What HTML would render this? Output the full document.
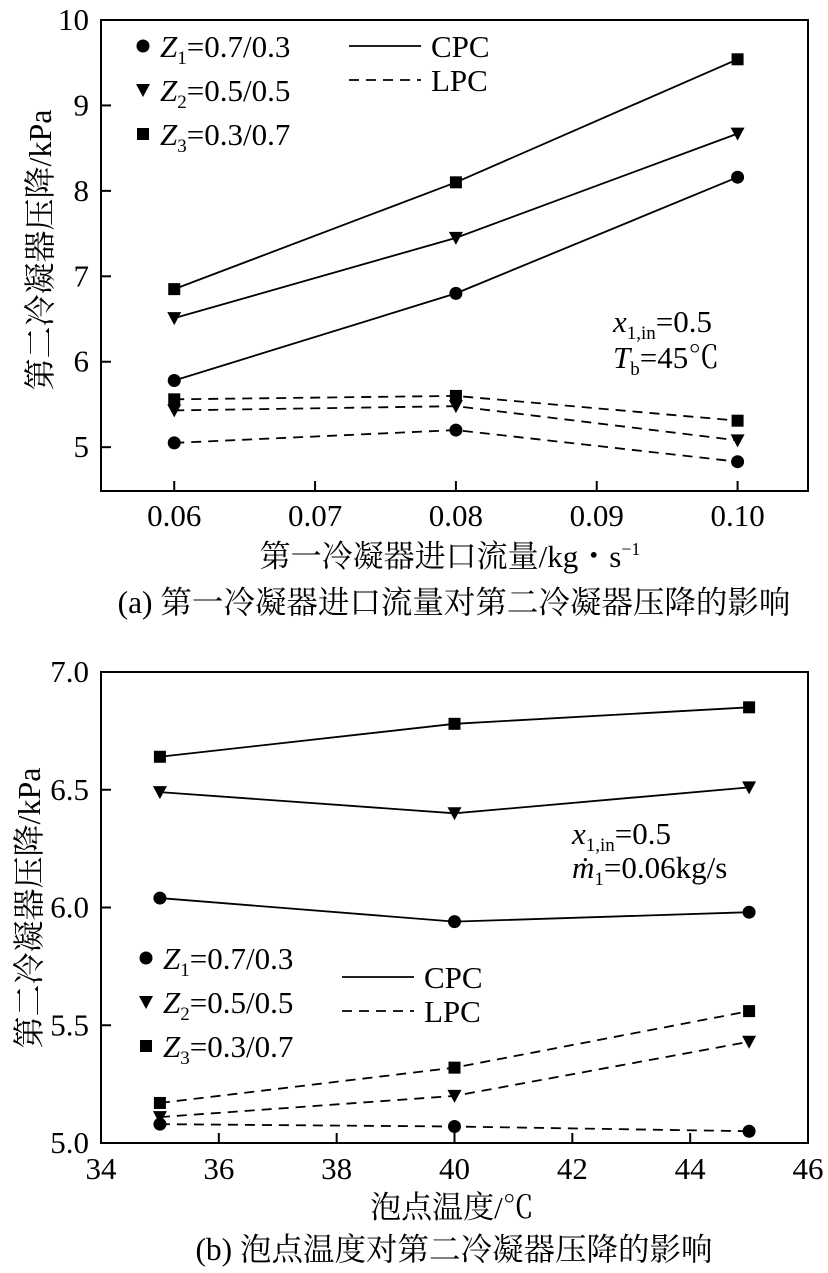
<!DOCTYPE html>
<html><head><meta charset="utf-8"><style>
body{margin:0;background:#fff;width:828px;height:1273px;overflow:hidden}
svg{display:block}
text{font-family:"Liberation Serif","Noto Serif CJK SC",serif;fill:#000}
</style></head><body>
<svg id="s" width="828" height="1273"></svg>
<script>
const flowCats=[0.06,0.08,0.10];
const aCPC1=[5.78,6.80,8.16], aCPC2=[6.51,7.45,8.67], aCPC3=[6.85,8.10,9.54];
const aLPC1=[5.05,5.20,4.83], aLPC2=[5.43,5.48,5.08], aLPC3=[5.56,5.60,5.31];
const aXTicks=[0.06,0.07,0.08,0.09,0.10], aXLabels=["0.06","0.07","0.08","0.09","0.10"];
const aYTicks=[5,6,7,8,9,10];
const tempCats=[35,40,45];
const bCPC1=[6.04,5.94,5.98], bCPC2=[6.49,6.40,6.51], bCPC3=[6.64,6.78,6.85];
const bLPC1=[5.08,5.07,5.05], bLPC2=[5.11,5.20,5.43], bLPC3=[5.17,5.32,5.56];
const bXTicks=[34,36,38,40,42,44,46];
const bYTicks=[5.0,5.5,6.0,6.5,7.0], bYLabels=["5.0","5.5","6.0","6.5","7.0"];

const S=document.getElementById('s'),NS='http://www.w3.org/2000/svg';
const FS=31, SUB=19;
function mk(t,a,p){const e=document.createElementNS(NS,t);for(const k in a)e.setAttribute(k,a[k]);(p||S).appendChild(e);return e;}
function txt(x,y,str,size,anchor,name,p){const e=mk('text',{x:x,y:y,'font-size':size,'text-anchor':anchor||'start'},p);e.innerHTML=str;return e;}
function marker(kind,x,y,p){let e;
 if(kind==0)e=mk('circle',{cx:x,cy:y,r:6.5},p);
 else if(kind==1)e=mk('path',{d:`M${x-7},${y-6}L${x+7},${y-6}L${x},${y+7}Z`},p);
 else e=mk('rect',{x:x-6,y:y-6,width:12,height:12},p);
 }
function chart(o){
 const g=mk('g',{});
 const X=v=>o.L+(v-o.x0)/(o.x1-o.x0)*(o.R-o.L), Y=v=>o.B-(v-o.y0)/(o.y1-o.y0)*(o.B-o.T);
 const f=mk('rect',{x:o.L,y:o.T,width:o.R-o.L,height:o.B-o.T,fill:'none',stroke:'#000','stroke-width':2},g);
 
 o.xt.forEach((v,i)=>{mk('line',{x1:X(v),x2:X(v),y1:o.B,y2:o.B-10,stroke:'#000','stroke-width':2},g);
  txt(X(v),o.B+o.tk,o.xl[i],FS,'middle','x-tick-label',g);});
 o.yt.forEach((v,i)=>{mk('line',{x1:o.L,x2:o.L+10,y1:Y(v),y2:Y(v),stroke:'#000','stroke-width':2},g);
  txt(o.L-12,Y(v)+10,o.yl[i],FS,'end','y-tick-label',g);});
 o.series.forEach(s=>{const pl=mk('polyline',{points:s.v.map((v,i)=>X(o.cats[i])+','+Y(v)).join(' '),fill:'none',stroke:'#000','stroke-width':1.8,'stroke-dasharray':s.d?'10,7':'none'},g);
  
  s.v.forEach((v,i)=>marker(s.k,X(o.cats[i]),Y(v),g));});
 return g;}
function ser(c1,c2,c3,l1,l2,l3){return[{v:c1,k:0,n:'cpc-z1-line'},{v:c2,k:1,n:'cpc-z2-line'},{v:c3,k:2,n:'cpc-z3-line'},
 {v:l1,k:0,d:1,n:'lpc-z1-line'},{v:l2,k:1,d:1,n:'lpc-z2-line'},{v:l3,k:2,d:1,n:'lpc-z3-line'}];}
function legend(x,y,p,lx,ly){
 const zs=[1,2,3].map((n,i)=>`<tspan font-style="italic">Z</tspan><tspan font-size="${SUB}" dy="7">${n}</tspan><tspan dy="-7">=${['0.7/0.3','0.5/0.5','0.3/0.7'][i]}</tspan>`);
 zs.forEach((z,i)=>{marker(i,x,y+i*44,p);txt(x+17,y+i*44+11,z,FS,'start','legend-entry',p);});
 mk('line',{x1:lx,x2:lx+72,y1:ly,y2:ly,stroke:'#000','stroke-width':1.8},p);
 txt(lx+82,ly+11,'CPC',FS,'start','legend-cpc',p);
 mk('line',{x1:lx,x2:lx+72,y1:ly+34,y2:ly+34,stroke:'#000','stroke-width':1.8,'stroke-dasharray':'10,7'},p);
 txt(lx+82,ly+45,'LPC',FS,'start','legend-lpc',p);}
const ga=chart({name:'chart-a',L:101,R:808,T:20,B:491,tk:35,x0:0.0548,x1:0.1050,y0:4.487,y1:10,cats:flowCats,xt:aXTicks,xl:aXLabels,yt:aYTicks,yl:aYTicks.map(String),series:ser(aCPC1,aCPC2,aCPC3,aLPC1,aLPC2,aLPC3)});
legend(143,46,ga,349,46);
txt(613,332,`<tspan font-style="italic">x</tspan><tspan font-size="${SUB}" dy="7">1,in</tspan><tspan dy="-7">=0.5</tspan>`,FS,'start','annotation-x1in',ga);
txt(613,368,`<tspan font-style="italic">T</tspan><tspan font-size="${SUB}" dy="7">b</tspan><tspan dy="-7">=45℃</tspan>`,FS,'start','annotation-tb',ga);
const ya=txt(0,0,'第二冷凝器压降/kPa',32,'middle','y-axis-title',ga);ya.setAttribute('transform','translate(51,250) rotate(-90)');
txt(450,567,'第一冷凝器进口流量/kg・s<tspan font-size="18" dy="-12">−1</tspan>',31,'middle','x-axis-title',ga);
txt(454,613,'(a) 第一冷凝器进口流量对第二冷凝器压降的影响',31.5,'middle','caption-a',ga);

const gb=chart({name:'chart-b',L:101,R:808,T:672,B:1143,tk:36,x0:34,x1:46,y0:5,y1:7,cats:tempCats,xt:bXTicks,xl:bXTicks.map(String),yt:bYTicks,yl:bYLabels,series:ser(bCPC1,bCPC2,bCPC3,bLPC1,bLPC2,bLPC3)});
legend(146,958,gb,342,977);
txt(572,844,`<tspan font-style="italic">x</tspan><tspan font-size="${SUB}" dy="7">1,in</tspan><tspan dy="-7">=0.5</tspan>`,FS,'start','annotation-x1in',gb);
txt(572,878,`<tspan font-style="italic">ṁ</tspan><tspan font-size="${SUB}" dy="7">1</tspan><tspan dy="-7">=0.06kg/s</tspan>`,FS,'start','annotation-m1',gb);
const yb=txt(0,0,'第二冷凝器压降/kPa',32,'middle','y-axis-title',gb);yb.setAttribute('transform','translate(40,908) rotate(-90)');
txt(452,1218,'泡点温度/℃',31,'middle','x-axis-title',gb);
txt(454,1260,'(b) 泡点温度对第二冷凝器压降的影响',31.5,'middle','caption-b',gb);
</script>
</body></html>
